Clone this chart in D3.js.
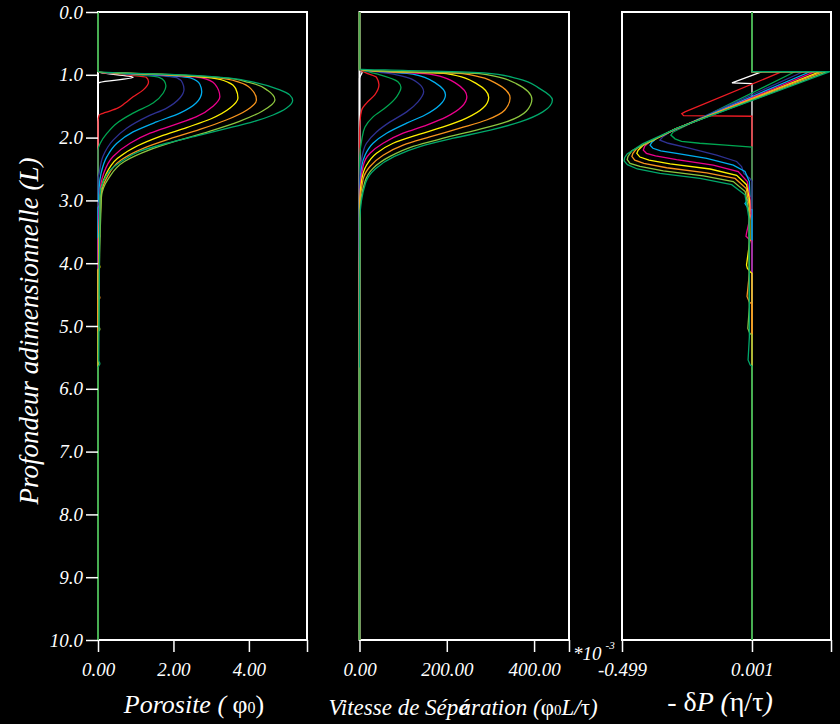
<!DOCTYPE html>
<html>
<head>
<meta charset="utf-8">
<script src="https://cdn.jsdelivr.net/npm/d3@7"></script>
<style>
  body { margin: 0; background: #000; }
  svg { display: block; background: #000; }
  text { font-family: "Liberation Serif", "DejaVu Serif", serif; font-style: italic; fill: #fff; }
</style>
</head>
<body>
<svg width="840" height="724"></svg>
<script>

// ---- data ----
var depthTicks = [0, 1, 2, 3, 4, 5, 6, 7, 8, 9, 10];
var depthDomain = [0, 10];

var porosityTicks = [0, 2, 4];
var porosityDomain = [0, 5.54];
var velocityTicks = [0, 200, 400];     // *10^-3
var velocityDomain = [0, 480];
var pressureTicks = [-0.499, 0.001];
var pressureDomain = [-0.499, 0.305];

// one colour per time step, drawn in this order
var curveColors = ["#ffffff", "#ed1c24", "#00a651", "#2e3192", "#00aeef",
                   "#ec008c", "#fff200", "#f7941d", "#8dc63f", "#00a86b"];
var baselineColor = "#4caf50";
var baselineDepths = [[0, 0.93], [5.66, 10]];

// [depth, porosity]
var porosity = [
  [[0,0],[0.95,0],[1.04,0.93],[1.12,0.05],[1.14,0],[10,0]],
  [[0,0],[0.95,0],[1.0,0.75],[1.04,1.28],[1.11,1.34],[1.24,1.2],[1.35,0.93],[1.45,0.72],[1.53,0.52],[1.6,0.2],[1.64,0.03],[1.75,0],[10,0]],
  [[0,0],[0.95,0],[1.0,1.0],[1.04,1.62],[1.1,1.76],[1.18,1.8],[1.29,1.73],[1.45,1.46],[1.61,0.93],[1.77,0.5],[1.93,0.24],[2.09,0.06],[2.2,0],[10,0]],
  [[0,0],[0.95,0],[1.0,1.3],[1.05,2.1],[1.13,2.24],[1.23,2.28],[1.37,2.17],[1.53,1.82],[1.67,1.29],[1.85,0.76],[2.04,0.4],[2.3,0.13],[2.57,0.03],[2.65,0],[10,0]],
  [[0,0],[0.95,0],[1.0,1.5],[1.05,2.45],[1.15,2.7],[1.27,2.75],[1.45,2.6],[1.61,2.17],[1.75,1.55],[1.91,0.93],[2.09,0.5],[2.3,0.24],[2.57,0.08],[2.8,0.03],[3.0,0.02],[3.06,0.05],[3.12,0],[10,0]],
  [[0,0],[0.95,0],[1.0,1.7],[1.05,2.75],[1.15,3.1],[1.35,3.23],[1.5,3.05],[1.67,2.6],[1.8,2.0],[1.93,1.38],[2.09,0.85],[2.3,0.4],[2.57,0.15],[2.9,0.05],[3.5,0.02],[3.57,0.05],[3.62,0],[10,0]],
  [[0,0],[0.95,0],[1.0,1.9],[1.05,3.0],[1.12,3.45],[1.22,3.65],[1.37,3.71],[1.53,3.5],[1.7,3.0],[1.84,2.35],[1.98,1.65],[2.13,1.05],[2.33,0.52],[2.6,0.2],[2.95,0.06],[4.0,0.02],[4.06,0.05],[4.11,0],[10,0]],
  [[0,0],[0.95,0],[1.0,2.0],[1.05,3.2],[1.12,3.75],[1.22,4.05],[1.4,4.2],[1.56,3.95],[1.72,3.4],[1.87,2.7],[2.02,1.9],[2.17,1.2],[2.36,0.6],[2.63,0.24],[2.95,0.08],[4.5,0.02],[4.55,0.05],[4.6,0],[10,0]],
  [[0,0],[0.95,0],[1.0,2.1],[1.05,3.35],[1.12,4.0],[1.25,4.5],[1.4,4.69],[1.58,4.35],[1.74,3.75],[1.9,2.95],[2.05,2.1],[2.2,1.35],[2.38,0.7],[2.65,0.28],[2.95,0.09],[5.0,0.02],[5.05,0.05],[5.1,0],[10,0]],
  [[0,0],[0.95,0],[1.0,2.3],[1.05,3.45],[1.12,4.15],[1.24,4.82],[1.32,5.08],[1.41,5.16],[1.53,5.0],[1.64,4.64],[1.75,4.1],[1.83,3.58],[1.96,2.7],[2.09,1.82],[2.22,1.1],[2.36,0.67],[2.52,0.32],[2.7,0.14],[2.94,0.05],[5.55,0.02],[5.6,0.05],[5.66,0],[10,0]]
];

// [depth, separation velocity *10^-3]
var velocity = [
  [[0,0],[0.91,0],[0.96,6],[1.02,2],[1.06,0],[10,0]],
  [[0,0],[0.91,0],[0.97,15],[1.04,39],[1.16,44.6],[1.32,35],[1.45,16],[1.56,5],[1.75,1],[2,0],[10,0]],
  [[0,0],[0.91,0],[0.96,25],[1.0,47],[1.11,88],[1.2,95],[1.35,85],[1.51,62],[1.67,31],[1.83,12.6],[2.04,5],[2.3,0.5],[2.5,0],[10,0]],
  [[0,0],[0.91,0],[0.95,35],[1.0,85],[1.13,134],[1.27,147],[1.43,134],[1.59,108],[1.75,70],[1.91,39],[2.09,16],[2.3,6],[2.6,1],[2.8,0],[10,0]],
  [[0,0],[0.91,0],[0.95,50],[0.99,122],[1.14,176],[1.32,197],[1.48,184],[1.64,150],[1.77,108],[1.93,62],[2.09,31],[2.28,12.6],[2.46,5],[2.8,1],[3.1,0],[10,0]],
  [[0,0],[0.91,0],[0.95,60],[0.99,161],[1.14,222],[1.35,246],[1.51,234],[1.67,199],[1.8,154],[1.93,100],[2.09,54],[2.25,24],[2.46,8],[2.9,1],[3.5,0],[10,0]],
  [[0,0],[0.91,0],[0.95,70],[0.98,199],[1.14,268],[1.36,296],[1.53,283],[1.69,245],[1.83,192],[1.96,131],[2.09,77],[2.25,39],[2.44,16],[2.67,5],[3.0,1],[4.0,0],[10,0]],
  [[0,0],[0.91,0],[0.95,80],[0.98,237],[1.14,314],[1.37,345],[1.56,333],[1.72,291],[1.85,230],[1.99,161],[2.12,100],[2.28,54],[2.46,24],[2.67,8],[3.1,1],[4.5,0],[10,0]],
  [[0,0],[0.91,0],[0.95,90],[0.98,275],[1.14,359],[1.39,395],[1.58,382],[1.75,336],[1.88,268],[2.01,192],[2.14,123],[2.3,70],[2.49,31],[2.7,12.6],[3.2,1],[5.0,0],[10,0]],
  [[0,0],[0.91,0],[0.93,100],[0.97,285],[1.06,362],[1.22,413],[1.4,442],[1.59,420],[1.75,368],[1.88,300],[2.01,215],[2.14,140],[2.3,80],[2.5,36],[2.72,14],[3.3,1],[5.6,0],[10,0]]
];

// [depth, -dP]
var pressure = [
  [[0,0.001],[0.95,0.001],[0.951,0.04],[1.13,-0.076],[1.14,0.001],[10,0.001]],
  [[0,0.001],[0.95,0.001],[0.951,0.116],[1.59,-0.257],[1.62,-0.269],[1.65,-0.262],[1.66,0.001],[10,0.001]],
  [[0,0.001],[0.95,0.001],[0.951,0.166],[1.91,-0.302],[1.96,-0.311],[2.02,-0.295],[2.06,-0.27],[2.09,-0.2],[2.12,-0.1],[2.15,0.001],[10,0.001]],
  [[0,0.001],[0.95,0.001],[0.951,0.198],[1.9,-0.31],[1.98,-0.34],[2.04,-0.353],[2.09,-0.321],[2.17,-0.237],[2.28,-0.135],[2.38,-0.058],[2.46,-0.039],[2.57,-0.03],[2.65,-0.007],[2.7,0.001],[10,0.001]],
  [[0,0.001],[0.95,0.001],[0.951,0.224],[1.89,-0.305],[2.01,-0.366],[2.08,-0.385],[2.12,-0.391],[2.17,-0.38],[2.21,-0.35],[2.25,-0.289],[2.33,-0.173],[2.44,-0.071],[2.54,-0.026],[2.7,-0.009],[2.94,-0.007],[3.05,-0.026],[3.13,-0.013],[3.15,0.001],[10,0.001]],
  [[0,0.001],[0.95,0.001],[0.951,0.243],[1.88,-0.3],[2.06,-0.391],[2.14,-0.412],[2.2,-0.417],[2.25,-0.405],[2.29,-0.37],[2.35,-0.289],[2.44,-0.148],[2.54,-0.052],[2.7,-0.017],[2.96,-0.007],[3.21,-0.003],[3.52,-0.02],[3.57,-0.022],[3.63,-0.007],[3.65,0.001],[10,0.001]],
  [[0,0.001],[0.95,0.001],[0.951,0.263],[1.87,-0.297],[2.12,-0.417],[2.2,-0.437],[2.25,-0.442],[2.31,-0.43],[2.36,-0.395],[2.42,-0.314],[2.5,-0.16],[2.6,-0.058],[2.75,-0.02],[3.0,-0.008],[3.63,-0.007],[4.03,-0.02],[4.08,-0.017],[4.14,-0.005],[4.16,0.001],[10,0.001]],
  [[0,0.001],[0.95,0.001],[0.951,0.274],[1.86,-0.294],[2.17,-0.442],[2.25,-0.457],[2.3,-0.461],[2.36,-0.45],[2.41,-0.415],[2.48,-0.327],[2.56,-0.173],[2.65,-0.064],[2.81,-0.021],[3.1,-0.009],[4.16,-0.009],[4.53,-0.018],[4.62,-0.009],[4.65,0.001],[10,0.001]],
  [[0,0.001],[0.95,0.001],[0.951,0.29],[1.855,-0.29],[2.21,-0.461],[2.3,-0.476],[2.35,-0.479],[2.41,-0.468],[2.46,-0.43],[2.53,-0.34],[2.61,-0.186],[2.7,-0.071],[2.86,-0.025],[3.2,-0.01],[4.7,-0.009],[5.04,-0.015],[5.12,-0.007],[5.14,0.001],[10,0.001]],
  [[0,0.001],[0.95,0.001],[0.951,0.301],[1.85,-0.287],[2.1,-0.42],[2.26,-0.479],[2.32,-0.489],[2.37,-0.491],[2.43,-0.478],[2.5,-0.44],[2.57,-0.353],[2.65,-0.199],[2.75,-0.077],[2.91,-0.026],[3.3,-0.01],[5.17,-0.009],[5.54,-0.014],[5.62,-0.006],[5.64,0.001],[10,0.001]]
];

// ---- layout ----
var svg = d3.select("svg"),
    plotTop = 12, plotBottom = 640;

var y = d3.scaleLinear().domain(depthDomain).range([plotTop, plotBottom]);

var panels = [
  {data: porosity, ticks: porosityTicks, base: 0,
   x: d3.scaleLinear().domain(porosityDomain).range([98, 307]),
   fmt: function(d) { return d.toFixed(2); }, curve: d3.curveMonotoneY},
  {data: velocity, ticks: velocityTicks, base: 0,
   x: d3.scaleLinear().domain(velocityDomain).range([359.5, 569]),
   fmt: function(d) { return d.toFixed(2); }, curve: d3.curveMonotoneY},
  {data: pressure, ticks: pressureTicks, base: 0.001,
   x: d3.scaleLinear().domain(pressureDomain).range([622, 831]),
   fmt: function(d) { return d.toFixed(3); }, curve: d3.curveLinear}
];

panels.forEach(function(p) {
  var g = svg.append("g");
  var x = p.x;

  // frame
  g.append("rect")
      .attr("x", x.range()[0])
      .attr("y", plotTop)
      .attr("width", x.range()[1] - x.range()[0])
      .attr("height", plotBottom - plotTop)
      .attr("fill", "none")
      .attr("stroke", "#fff")
      .attr("stroke-width", 2);

  // bottom axis, the far end gets a tick but no label
  var endVal = x.domain()[1];
  var ax = g.append("g")
      .attr("transform", "translate(0," + plotBottom + ")")
      .call(d3.axisBottom(x)
        .tickValues(p.ticks.concat([endVal]))
        .tickSize(12)
        .tickPadding(11)
        .tickFormat(function(d) { return d === endVal ? "" : p.fmt(d); }));
  ax.select(".domain").remove();
  ax.attr("font-family", null).attr("font-size", null);
  ax.selectAll("line").attr("stroke", "#fff").attr("stroke-width", 1.5);
  ax.selectAll("text").attr("fill", "#fff").style("font-size", "19px");

  var line = d3.line()
      .x(function(d) { return x(d[1]); })
      .y(function(d) { return y(d[0]); })
      .curve(p.curve);

  g.selectAll(".curve")
    .data(p.data)
    .enter().append("path")
      .attr("class", "curve")
      .attr("d", line)
      .attr("fill", "none")
      .attr("stroke", function(d, i) { return curveColors[i]; })
      .attr("stroke-width", 1.3);

  // green zero line where every step sits on it
  g.selectAll(".base")
    .data(baselineDepths)
    .enter().append("line")
      .attr("x1", x(p.base)).attr("x2", x(p.base))
      .attr("y1", function(d) { return y(d[0]); })
      .attr("y2", function(d) { return y(d[1]); })
      .attr("stroke", baselineColor)
      .attr("stroke-width", 1.5);
});

// depth axis on the first panel
var ay = svg.append("g")
    .attr("transform", "translate(" + panels[0].x.range()[0] + ",0)")
    .call(d3.axisLeft(y)
      .tickValues(depthTicks)
      .tickSize(12)
      .tickPadding(3)
      .tickFormat(function(d) { return d.toFixed(1); }));
ay.select(".domain").remove();
ay.attr("font-family", null).attr("font-size", null);
ay.selectAll("line").attr("stroke", "#fff").attr("stroke-width", 1.5);
ay.selectAll("text").attr("fill", "#fff").style("font-size", "19px");

// ---- titles ----
svg.append("text")
    .attr("transform", "translate(38,331) rotate(-90)")
    .attr("text-anchor", "middle")
    .style("font-size", "27px")
    .text("Profondeur adimensionnelle (L)");

var t1 = svg.append("text")
    .attr("x", 194).attr("y", 713)
    .attr("text-anchor", "middle")
    .style("font-size", "26px");
t1.append("tspan").text("Porosite ( ");
t1.append("tspan").style("font-style", "normal").text("φ");
t1.append("tspan").style("font-style", "normal").style("font-size", "16px").text("0");
t1.append("tspan").style("font-style", "normal").text(")");

var t2 = svg.append("text")
    .attr("x", 463).attr("y", 715)
    .attr("text-anchor", "middle")
    .style("font-size", "23px");
t2.append("tspan").text("Vitesse de Sép");
t2.append("tspan").text("é");
t2.append("tspan").attr("dx", -9).text("aration (");
t2.append("tspan").style("font-style", "normal").text("φ");
t2.append("tspan").style("font-style", "normal").style("font-size", "15px").text("0");
t2.append("tspan").text("L/");
t2.append("tspan").style("font-style", "normal").text("τ");
t2.append("tspan").text(")");

var t3 = svg.append("text")
    .attr("x", 720).attr("y", 711)
    .attr("text-anchor", "middle")
    .style("font-size", "28px");
t3.append("tspan").style("font-style", "normal").text("- δ");
t3.append("tspan").text("P (");
t3.append("tspan").style("font-style", "normal").text("η/τ");
t3.append("tspan").text(")");

var t4 = svg.append("text")
    .attr("x", 573).attr("y", 660)
    .style("font-size", "19px");
t4.append("tspan").text("*10");
t4.append("tspan").attr("dx", 4).attr("dy", -11).style("font-size", "11px").text("-3");

</script>
</body>
</html>
